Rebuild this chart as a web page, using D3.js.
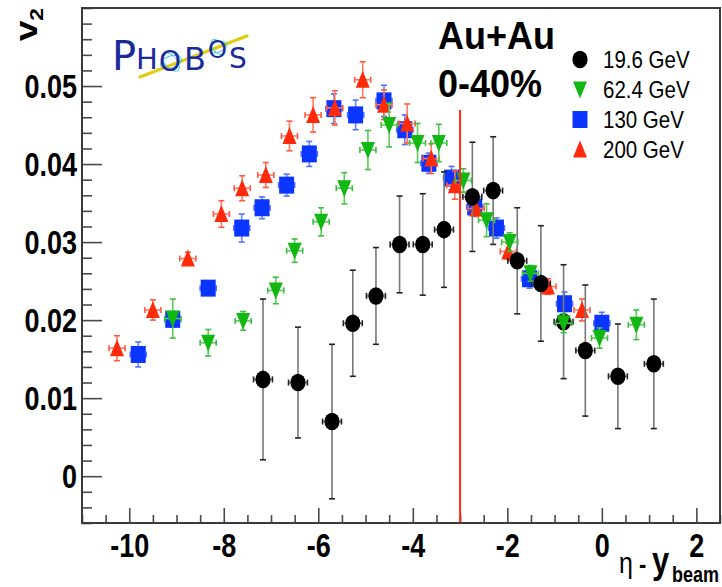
<!DOCTYPE html>
<html>
<head>
<meta charset="utf-8">
<script src="https://cdn.jsdelivr.net/npm/d3@7"></script>
<style>
  body { margin: 0; background: #fff; }
  svg { display: block; }
</style>
</head>
<body>
<svg id="chart" width="722" height="587"></svg>
<script>
// ---- axis ranges and tick labels ----
const xRange = [-11, 2.5];
const yRange = [-0.006, 0.06];
const xMajorTicks = [-10, -8, -6, -4, -2, 0, 2];
const xTickLabels = ["-10", "-8", "-6", "-4", "-2", "0", "2"];
const yMajorTicks = [0, 0.01, 0.02, 0.03, 0.04, 0.05];
const yTickLabels = ["0", "0.01", "0.02", "0.03", "0.04", "0.05"];

// ---- series: eta - y_beam, v2, statistical error ----
const seriesNames = ["19.6 GeV", "62.4 GeV", "130 GeV", "200 GeV"];

const eta196 = [-7.17, -6.43, -5.71, -5.27, -4.78, -4.28, -3.79, -3.34, -2.74, -2.30, -1.79, -1.29, -0.81, -0.35, 0.34, 1.10];
const v2_196 = [0.0124, 0.0120, 0.0070, 0.0196, 0.0231, 0.0297, 0.0297, 0.0316, 0.0358, 0.0366, 0.0276, 0.0247, 0.0198, 0.0161, 0.0128, 0.0144];
const err196 = [0.0103, 0.0071, 0.0099, 0.0068, 0.0062, 0.0062, 0.0065, 0.0074, 0.0070, 0.0069, 0.0068, 0.0074, 0.0073, 0.0084, 0.0067, 0.0083];

const eta624 = [-9.08, -8.33, -7.59, -6.90, -6.50, -5.94, -5.45, -4.95, -4.50, -3.90, -3.45, -2.93, -2.44, -1.95, -1.51, -0.81, -0.05, 0.73];
const v2_624 = [0.0202, 0.0171, 0.0199, 0.0238, 0.0289, 0.0326, 0.0369, 0.0418, 0.0450, 0.0427, 0.0427, 0.0379, 0.0328, 0.0300, 0.0260, 0.0196, 0.0177, 0.0194];
const err624 = [0.0025, 0.0017, 0.0012, 0.0017, 0.0015, 0.0018, 0.0020, 0.0025, 0.0028, 0.0025, 0.0024, 0.0015, 0.0021, 0.0012, 0.0010, 0.0012, 0.0013, 0.0019];

const eta130 = [-9.81, -9.08, -8.33, -7.62, -7.19, -6.67, -6.19, -5.67, -5.21, -4.61, -4.17, -3.66, -3.18, -2.69, -2.23, -1.53, -0.79, 0.00];
const v2_130 = [0.0156, 0.0201, 0.0241, 0.0318, 0.0344, 0.0373, 0.0413, 0.0471, 0.0463, 0.0481, 0.0444, 0.0401, 0.0382, 0.0345, 0.0318, 0.0253, 0.0221, 0.0196];
const err130 = [0.0016, 0.0010, 0.0008, 0.0018, 0.0014, 0.0014, 0.0016, 0.0019, 0.0019, 0.0020, 0.0019, 0.0013, 0.0015, 0.0012, 0.0013, 0.0012, 0.0015, 0.0014];

const eta200 = [-10.26, -9.50, -8.76, -8.05, -7.61, -7.11, -6.61, -6.11, -5.65, -5.06, -4.61, -4.12, -3.61, -3.11, -2.66, -1.98, -1.14, -0.42];
const v2_200 = [0.0164, 0.0213, 0.0279, 0.0336, 0.0369, 0.0386, 0.0436, 0.0463, 0.0472, 0.0508, 0.0476, 0.0452, 0.0407, 0.0373, 0.0343, 0.0288, 0.0243, 0.0213];
const err200 = [0.0016, 0.0013, 0.0008, 0.0017, 0.0016, 0.0016, 0.0019, 0.0022, 0.0022, 0.0023, 0.0019, 0.0025, 0.0019, 0.0018, 0.0010, 0.0010, 0.0010, 0.0014];

const beamRapidityLine = -3.0;

// ---- layout ----
const frame = { left: 82, right: 720, top: 8, bottom: 523 };
const FONT = "'Liberation Sans', Arial, Helvetica, sans-serif";
const svg = d3.select("#chart");

const x = d3.scaleLinear().domain(xRange).range([frame.left, frame.right]);
const y = d3.scaleLinear().domain(yRange).range([frame.bottom, frame.top]);

// ---- axes (ticks point into the frame) ----
const xMinor = d3.range(xRange[0], xRange[1] + 1e-9, 0.5).filter(v => !xMajorTicks.includes(v));
const yMinor = d3.range(-0.006, 0.0601, 0.002).map(v => +v.toFixed(4))
  .filter(v => !yMajorTicks.some(m => Math.abs(m - v) < 1e-6));

function styleAxis(g) {
  g.select(".domain").remove();
  g.selectAll("line").attr("stroke", "#4a4a4a").attr("stroke-width", 1.6);
}

svg.append("g")
  .attr("transform", `translate(0,${frame.bottom})`)
  .call(d3.axisBottom(x).tickValues(xMinor).tickSize(-8).tickFormat(""))
  .call(styleAxis);

const gx = svg.append("g")
  .attr("transform", `translate(0,${frame.bottom})`)
  .call(d3.axisBottom(x).tickValues(xMajorTicks).tickSize(-15).tickFormat((d, i) => xTickLabels[i]))
  .call(styleAxis);
gx.attr("font-family", FONT).attr("font-size", 27).attr("font-weight", "bold");
gx.selectAll("text")
  .attr("y", null).attr("dy", "0.36em")
  .attr("fill", "#000")
  .attr("transform", "translate(0,22) scale(1,1.2)");

svg.append("g")
  .attr("transform", `translate(${frame.left},0)`)
  .call(d3.axisLeft(y).tickValues(yMinor).tickSize(-10).tickFormat(""))
  .call(styleAxis);

const gy = svg.append("g")
  .attr("transform", `translate(${frame.left},0)`)
  .call(d3.axisLeft(y).tickValues(yMajorTicks).tickSize(-20).tickPadding(5).tickFormat((d, i) => yTickLabels[i]))
  .call(styleAxis);
gy.attr("font-family", FONT).attr("font-size", 27).attr("font-weight", "bold");
gy.selectAll("text")
  .attr("dy", "0.36em")
  .attr("fill", "#000")
  .attr("transform", "scale(1,1.2)");

// frame box
svg.append("rect")
  .attr("x", frame.left).attr("y", frame.top)
  .attr("width", frame.right - frame.left).attr("height", frame.bottom - frame.top)
  .attr("fill", "none").attr("stroke", "#3a3a3a").attr("stroke-width", 2);

// ---- marker shapes ----
const shapes = {
  circle: sel => sel.append("ellipse").attr("rx", 7.6).attr("ry", 8.8),
  square: sel => sel.append("rect").attr("x", -7.5).attr("y", -8.5).attr("width", 15).attr("height", 17),
  up: sel => sel.append("path").attr("d", "M0,-9 L7,8 L-7,8 Z"),
  down: sel => sel.append("path").attr("d", "M0,9 L7,-8 L-7,-8 Z")
};

function drawSeries(etas, vals, errs, xErr, shape, color, errColor, capColor) {
  const data = d3.zip(etas, vals, errs);
  const g = svg.append("g");
  const eb = g.append("g").attr("stroke-width", 1.6);
  data.forEach(([e, v, s]) => {
    const cx = x(e), cy = y(v), y0 = y(v - s), y1 = y(v + s);
    const xa = x(e - xErr), xb = x(e + xErr);
    // vertical error bar with caps
    eb.append("line").attr("x1", cx).attr("x2", cx).attr("y1", y0).attr("y2", y1).attr("stroke", errColor);
    eb.append("line").attr("x1", cx - 3).attr("x2", cx + 3).attr("y1", y0).attr("y2", y0).attr("stroke", capColor);
    eb.append("line").attr("x1", cx - 3).attr("x2", cx + 3).attr("y1", y1).attr("y2", y1).attr("stroke", capColor);
    // horizontal bar with end ticks
    eb.append("line").attr("x1", xa).attr("x2", xb).attr("y1", cy).attr("y2", cy).attr("stroke", errColor);
    eb.append("line").attr("x1", xa).attr("x2", xa).attr("y1", cy - 3).attr("y2", cy + 3).attr("stroke", capColor);
    eb.append("line").attr("x1", xb).attr("x2", xb).attr("y1", cy - 3).attr("y2", cy + 3).attr("stroke", capColor);
  });
  const m = g.selectAll("g.mk").data(data).join("g")
    .attr("class", "mk")
    .attr("transform", d => `translate(${x(d[0])},${y(d[1])})`);
  shapes[shape](m).attr("fill", color);
}

const RED = "#ff2a0a", GREEN = "#12b812", BLUE = "#0a34ff", BLACK = "#000";

drawSeries(eta130, v2_130, err130, 0.17, "square", BLUE, "#6f86ff", "#5570ff");
drawSeries(eta200, v2_200, err200, 0.17, "up", RED, "#ff7a60", "#ff5a40");
drawSeries(eta196, v2_196, err196, 0.2, "circle", BLACK, "#777", "#222");
drawSeries(eta624, v2_624, err624, 0.17, "down", GREEN, "#5ccc5c", "#3cbf3c");

// beam-rapidity reference line
svg.append("line")
  .attr("x1", x(beamRapidityLine)).attr("x2", x(beamRapidityLine))
  .attr("y1", 110).attr("y2", frame.bottom - 1)
  .attr("stroke", "#ff2a10").attr("stroke-width", 2);

// ---- legend ----
const legendShapes = ["circle", "down", "square", "up"];
const legendColors = [BLACK, GREEN, BLUE, RED];
const legend = svg.append("g").attr("transform", "translate(580,59.5)");
seriesNames.forEach((name, i) => {
  const row = legend.append("g").attr("transform", `translate(0,${i * 30})`);
  shapes[legendShapes[i]](row).attr("fill", legendColors[i]);
  row.append("text")
    .attr("transform", "translate(23,0) scale(1,1.2)")
    .attr("dy", "0.36em")
    .attr("font-family", FONT).attr("font-size", 20.5)
    .attr("fill", "#000")
    .text(name);
});

// ---- system / centrality label ----
[["Au+Au", 48.5], ["0-40%", 97]].forEach(([t, by]) => {
  svg.append("text")
    .attr("transform", `translate(438,${by}) scale(1,1.06)`)
    .attr("font-family", FONT).attr("font-size", 36).attr("font-weight", "bold")
    .attr("fill", "#000")
    .text(t);
});

// ---- axis titles ----
const yTitle = svg.append("text")
  .attr("transform", "translate(37,8) rotate(-90) scale(1.2,1)")
  .attr("text-anchor", "end")
  .attr("font-family", FONT).attr("font-weight", "bold").attr("font-size", 31)
  .attr("fill", "#000");
yTitle.append("tspan").text("v");
yTitle.append("tspan").attr("font-size", 19).attr("dy", 6).text("2");

const xTitle = svg.append("text")
  .attr("transform", "translate(619,572.6) scale(1,1.2)")
  .attr("font-family", FONT).attr("fill", "#000");
xTitle.append("tspan").attr("font-size", 25).text("η");
xTitle.append("tspan").attr("font-size", 22).attr("font-weight", "bold").attr("x", 20).text("-");
xTitle.append("tspan").attr("font-size", 31).attr("font-weight", "bold").attr("x", 33).text("y");
xTitle.append("tspan").attr("font-size", 18).attr("font-weight", "bold").attr("x", 53).attr("dy", 7.5).text("beam");

// ---- experiment logo ----
const logo = svg.append("g");
logo.append("path")
  .attr("d", "M140,77 Q195,56 247,36")
  .attr("fill", "none").attr("stroke", "#e2cc12").attr("stroke-width", 3.2).attr("stroke-linecap", "round");
[[171, 62, 11, 6, -20], [218, 47, 9, 5, -20]].forEach(([cx, cy, rx, ry, a]) => {
  logo.append("ellipse").attr("cx", cx).attr("cy", cy).attr("rx", rx).attr("ry", ry)
    .attr("transform", `rotate(${a},${cx},${cy})`)
    .attr("fill", "none").attr("stroke", "#35c8e8").attr("stroke-width", 0.9);
  logo.append("ellipse").attr("cx", cx).attr("cy", cy).attr("rx", rx).attr("ry", ry)
    .attr("transform", `rotate(${a + 70},${cx},${cy})`)
    .attr("fill", "none").attr("stroke", "#35c8e8").attr("stroke-width", 0.9);
});
const logoText = logo.append("text")
  .attr("font-family", "'DejaVu Sans', sans-serif").attr("fill", "#1a2a9c");
[["P", 112, 70, 40], ["H", 136, 69, 29], ["O", 159, 71, 28], ["B", 184, 70, 32], ["O", 208, 58, 24], ["S", 229, 68, 28]]
  .forEach(([ch, lx, ly, fs]) => {
    logoText.append("tspan").attr("x", lx).attr("y", ly).attr("font-size", fs).text(ch);
  });
</script>
</body>
</html>
